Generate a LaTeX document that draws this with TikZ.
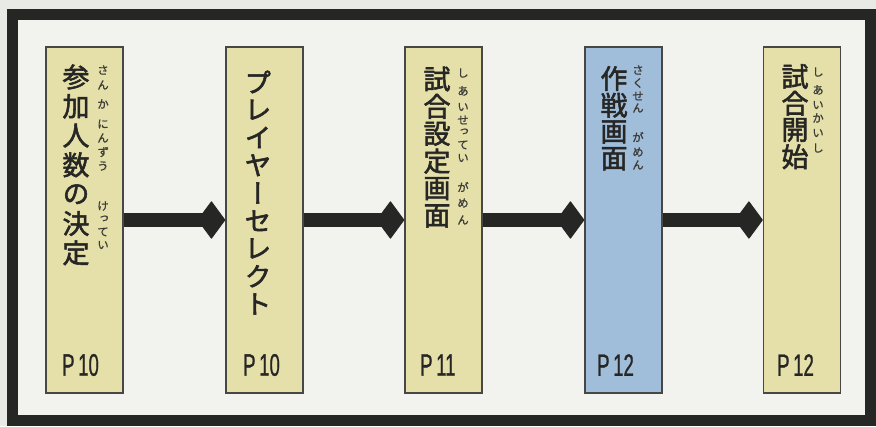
\documentclass[tikz,border=0pt]{standalone}
\usepackage{fontspec}
\usetikzlibrary{arrows.meta}
\newfontfamily\jpmain[RawFeature=+vert,FakeBold=2]{Noto Sans CJK JP}
\newfontfamily\jpruby[RawFeature=+vert,FakeBold=0.8]{Noto Sans CJK JP}
\newfontfamily\labfont[FakeBold=1]{Liberation Sans}
\definecolor{outbg}{HTML}{E9E9E6}
\definecolor{inbg}{HTML}{F2F2EF}
\definecolor{khaki}{HTML}{E5DFA9}
\definecolor{paleblue}{HTML}{A0BDDA}
\definecolor{ink}{HTML}{262624}
\tikzset{
  stagebox/.style={draw=ink!85,line width=1.4pt,minimum width=77pt,minimum height=346pt,inner sep=0pt},
  mainch/.style={inner sep=0pt,text=ink,font=\jpmain\fontsize{27}{27}\selectfont},
  rubych/.style={inner sep=0pt,text=ink!90,font=\jpruby\fontsize{11.5}{11.5}\selectfont},
  pagelab/.style={inner sep=0pt,anchor=west,text=ink,font=\labfont\fontsize{31}{31}\selectfont},
  flowarrow/.style={draw=ink,line width=14pt,-{Diamond[length=28pt,width=38pt,line width=1pt,round]}},
}
\newcommand{\pagetext}[1]{\scalebox{0.6}[1]{#1}}
\begin{document}
\begin{tikzpicture}[x=1pt,y=-1pt]
\useasboundingbox (0,0) rectangle (876,426);
\fill[outbg] (0,0) rectangle (876,426);
\draw[ink,line width=11pt,fill=inbg] (12.5,14.5) rectangle (870,420);
% boxes
\node[stagebox,fill=khaki] (b1) at (84.5,220) {};
\node[stagebox,fill=khaki] (b2) at (264.5,220) {};
\node[stagebox,fill=khaki] (b3) at (443.5,220) {};
\node[stagebox,fill=paleblue] (b4) at (623.5,220) {};
\node[stagebox,fill=khaki] (b5) at (802,220) {};
% arrows
\draw[flowarrow] (b1.east) -- (b2.west);
\draw[flowarrow] (b2.east) -- (b3.west);
\draw[flowarrow] (b3.east) -- (b4.west);
\draw[flowarrow] (b4.east) -- (b5.west);
% main vertical texts
\foreach \ch [count=\k from 0] in {参,加,人,数,の,決,定}
  \node[mainch] (m1-\k) at (76,77+29.3*\k) {\ch};
\foreach \ch [count=\k from 0] in {プ,レ,イ,ヤ,ー,セ,レ,ク,ト}
  \node[mainch] (m2-\k) at (258,82+27.75*\k) {\ch};
\foreach \ch [count=\k from 0] in {試,合,設,定,画,面}
  \node[mainch] (m3-\k) at (437,79+27.4*\k) {\ch};
\foreach \ch [count=\k from 0] in {作,戦,画,面}
  \node[mainch] (m4-\k) at (614,78.5+26.75*\k) {\ch};
\foreach \ch [count=\k from 0] in {試,合,開,始}
  \node[mainch] (m5-\k) at (795,76.5+26.75*\k) {\ch};
% ruby
\foreach \yy/\ch [count=\k] in {70/さ,85/ん,104/か,124/に,138/ん,152/ず,166/う,206/け,219/っ,232/て,245/い}
  \node[rubych] (r1-\k) at (103,\yy) {\ch};
\foreach \yy/\ch [count=\k] in {73/し,91/あ,107/い,120/せ,132/っ,145/て,158/い,187/が,203/め,220/ん}
  \node[rubych] (r3-\k) at (463,\yy) {\ch};
\foreach \yy/\ch [count=\k] in {70/さ,83/く,96/せ,108/ん,137/が,152/め,165/ん}
  \node[rubych] (r4-\k) at (638,\yy) {\ch};
\foreach \yy/\ch [count=\k] in {72/し,90/あ,105/い,118/か,133/い,148/し}
  \node[rubych] (r5-\k) at (818,\yy) {\ch};
% page labels
\node[pagelab] (p1) at (62,365) {\pagetext{P\hspace{6pt}10}};
\node[pagelab] (p2) at (243,365) {\pagetext{P\hspace{6pt}10}};
\node[pagelab] (p3) at (420,365) {\pagetext{P\hspace{6pt}11}};
\node[pagelab] (p4) at (597,365) {\pagetext{P\hspace{6pt}12}};
\node[pagelab] (p5) at (777,365) {\pagetext{P\hspace{6pt}12}};
\end{tikzpicture}
\end{document}
